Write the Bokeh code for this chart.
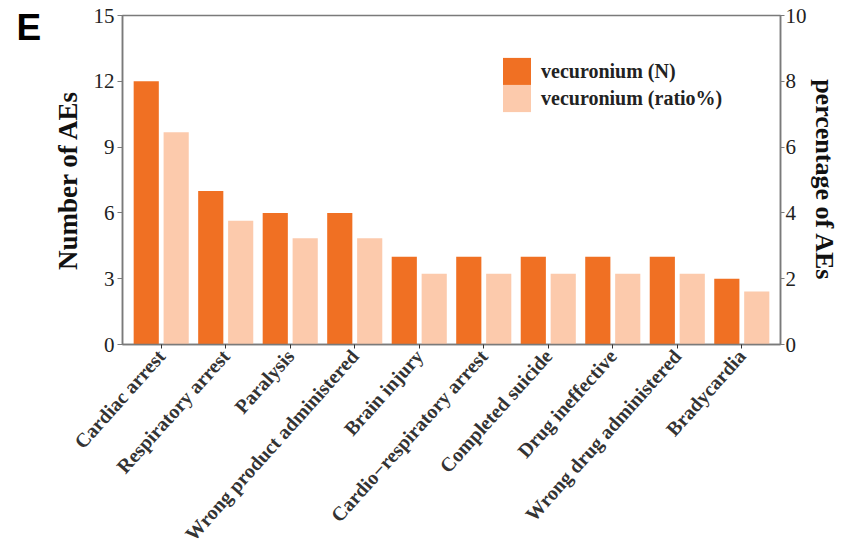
from bokeh.plotting import figure
from bokeh.models import FactorRange, Range1d, LinearAxis, FixedTicker, Legend, LegendItem, Label, ColumnDataSource
from bokeh.transform import dodge
from bokeh.embed import file_html
from bokeh.resources import INLINE

categories = ["Cardiac arrest", "Respiratory arrest", "Paralysis", "Wrong product administered",
              "Brain injury", "Cardio\u2212respiratory arrest", "Completed suicide", "Drug ineffective",
              "Wrong drug administered", "Bradycardia"]
counts_n = [12, 7, 6, 6, 4, 4, 4, 4, 4, 3]
ratio_pct = [6.45, 3.76, 3.23, 3.23, 2.15, 2.15, 2.15, 2.15, 2.15, 1.61]
left_ticks = [0, 3, 6, 9, 12, 15]
right_ticks = [0, 2, 4, 6, 8, 10]
series_labels = ["vecuronium (N)", "vecuronium (ratio%)"]
panel_letter = "E"

DARK = "#F07023"
LIGHT = "#FCCAAC"
AXIS = "#7a7a7a"
SERIF = "Liberation Serif"

src = ColumnDataSource(dict(cat=categories, n=counts_n, pct=ratio_pct))

p = figure(x_range=FactorRange(factors=categories, range_padding=0.02),
           y_range=Range1d(0, 15), width=841, height=555,
           output_backend="svg", toolbar_location=None,
           min_border_left=122, min_border_right=61, min_border_top=15, min_border_bottom=210)
p.extra_y_ranges = {"pct": Range1d(0, 10)}

r1 = p.vbar(x=dodge("cat", -0.232, range=p.x_range), top="n", width=0.39, source=src,
            fill_color=DARK, line_color=None)
r2 = p.vbar(x=dodge("cat", 0.232, range=p.x_range), top="pct", width=0.39, source=src,
            fill_color=LIGHT, line_color=None, y_range_name="pct")

p.grid.visible = False
p.outline_line_color = AXIS
p.outline_line_width = 1.5
p.background_fill_color = "white"
p.border_fill_color = "white"

# left axis
la = p.yaxis[0]
la.ticker = FixedTicker(ticks=left_ticks)
la.axis_label = "Number of AEs"
la.axis_label_text_font = SERIF
la.axis_label_text_font_style = "bold"
la.axis_label_text_font_size = "27px"
la.axis_label_text_color = "#111111"
la.axis_label_standoff = 8
la.major_label_text_font = SERIF
la.major_label_text_font_size = "21px"
la.major_label_text_color = "#222222"
la.major_label_standoff = 3
la.axis_line_color = AXIS
la.axis_line_width = 1.5
la.major_tick_line_color = AXIS
la.major_tick_out = 5
la.major_tick_in = 0
la.minor_tick_line_color = None

# right axis
ra = LinearAxis(y_range_name="pct", ticker=FixedTicker(ticks=right_ticks))
ra.axis_label = "percentage of AEs"
ra.axis_label_text_font = SERIF
ra.axis_label_text_font_style = "bold"
ra.axis_label_text_font_size = "26px"
ra.axis_label_text_color = "#111111"
ra.axis_label_standoff = 0
ra.major_label_text_font = SERIF
ra.major_label_text_font_size = "21px"
ra.major_label_text_color = "#222222"
ra.major_label_standoff = 1
ra.axis_line_color = AXIS
ra.axis_line_width = 1.5
ra.major_tick_line_color = AXIS
ra.major_tick_out = 4
ra.major_tick_in = 0
ra.minor_tick_line_color = None
p.add_layout(ra, "right")

# bottom axis
xa = p.xaxis[0]
xa.major_label_orientation = 0.84
xa.major_label_text_font = SERIF
xa.major_label_text_font_style = "bold"
xa.major_label_text_font_size = "20px"
xa.major_label_text_color = "#333333"
xa.major_label_standoff = 4
xa.axis_line_color = AXIS
xa.axis_line_width = 1.5
xa.major_tick_line_color = "#333333"
xa.major_tick_out = 4
xa.major_tick_in = 0

legend_style = dict(orientation="vertical", glyph_width=35, glyph_height=34, spacing=0,
                    padding=0, margin=0, label_standoff=7, label_text_font=SERIF,
                    label_text_font_style="bold", label_text_font_size="20px",
                    label_text_color="#222222", border_line_color=None,
                    background_fill_alpha=0)
leg1 = Legend(items=[LegendItem(label=series_labels[0], renderers=[r1])],
              location=(377, 256), **legend_style)
leg2 = Legend(items=[LegendItem(label=series_labels[1], renderers=[r2])],
              location=(377, 229), **legend_style)
p.add_layout(leg1, "center")
p.add_layout(leg2, "center")

p.add_layout(Label(x=-8, y=338, x_units="screen", y_units="screen", text=panel_letter,
                   text_font="Liberation Sans", text_font_style="bold", text_font_size="37px",
                   text_color="black", text_baseline="top"), "left")

open("out.html", "w").write(file_html(p, INLINE))
